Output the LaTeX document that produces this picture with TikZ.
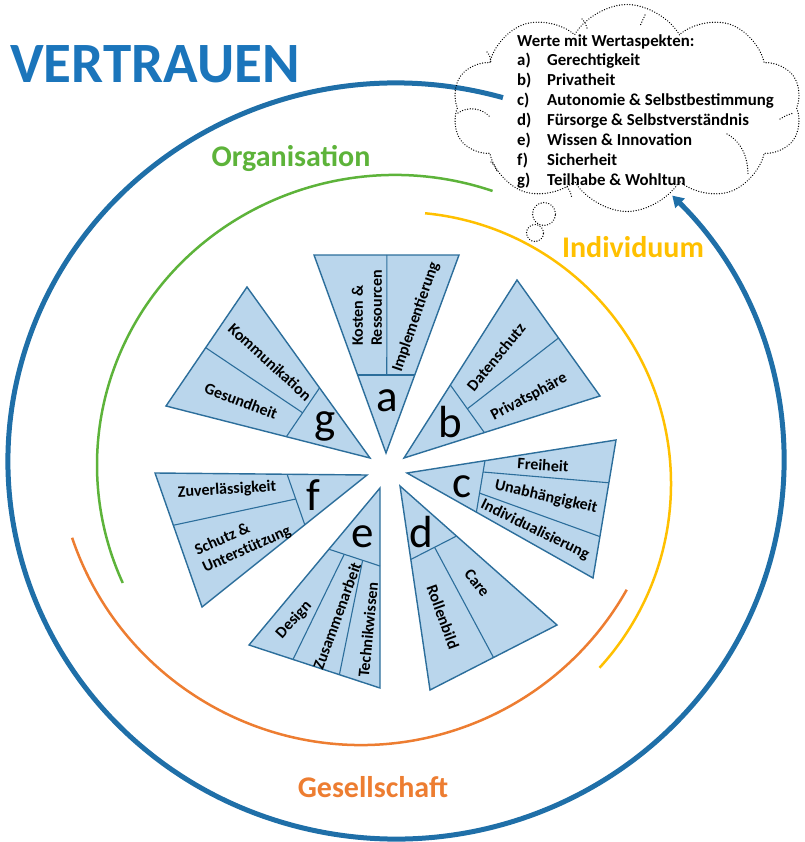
\documentclass[tikz,border=0pt]{standalone}
\usepackage{fontspec}
\setmainfont{Carlito}
\usetikzlibrary{calc,shapes.symbols,arrows.meta}
\definecolor{ringblue}{HTML}{1F6FA8}
\definecolor{titleblue}{HTML}{1B75BB}
\definecolor{orggreen}{HTML}{5DB33A}
\definecolor{indyellow}{HTML}{FFC000}
\definecolor{gesorange}{HTML}{ED7D31}
\definecolor{trifill}{HTML}{BAD6EC}
\definecolor{triline}{HTML}{2C6E9B}
\newcommand\wedgeshape[5]{%
  \coordinate (#1A) at #2; \coordinate (#1P) at #3; \coordinate (#1Q) at #4;
  \draw[tri] (#1A) -- (#1P) -- (#1Q) -- cycle;
  \coordinate (#1C1) at ($(#1A)!#5!(#1P)$);
  \coordinate (#1C2) at ($(#1A)!#5!(#1Q)$);
  \draw[divline] (#1C1) -- (#1C2);}
\newcommand\subdiv[3]{%
  \draw[divline] ($(#1C1)!#2!(#1C2)$) -- ($(#1P)!#3!(#1Q)$);}
\begin{document}
\begin{tikzpicture}[x=1pt,y=-1pt,
  tri/.style={fill=trifill,draw=triline,line width=1.4pt,line join=miter},
  divline/.style={draw=triline,line width=1.1pt},
  lbl/.style={font=\fontsize{16}{19}\selectfont\bfseries,inner sep=0,align=left},
  letter/.style={font=\fontsize{45}{45}\selectfont,inner sep=0},
  cloudtxt/.style={font=\fontsize{16.8}{20}\selectfont\bfseries,inner sep=0,anchor=base west},
  dotline/.style={draw=black,line width=1.4pt,line cap=round,dash pattern=on 0.01pt off 2.6pt},
  bigtitle/.style={font=\fontsize{30}{32}\selectfont\bfseries,inner sep=0,anchor=base}]
\useasboundingbox (0,0) rectangle (804,842);

% rings
\draw[ringblue,line width=5pt,-{Triangle[length=11pt,width=13pt]}]
  (396,461) ++(-74:388 and 378) arc[start angle=-74,end angle=-404.6,x radius=388,y radius=378];
\draw[orggreen,line width=2.5pt]
  (395,465) ++(-70.9:298 and 290) arc[start angle=-70.9,end angle=-204,x radius=298,y radius=290];
\draw[indyellow,line width=2.5pt]
  (399,484) ++(-84.5:272) arc[start angle=-84.5,end angle=42.5,radius=272];
\draw[gesorange,line width=2.5pt]
  (361,440) ++(-198.7:305) arc[start angle=-198.7,end angle=-330.6,radius=305];

% wedges
\wedgeshape{a}{(386,453)}{(314,255)}{(459,255)}{0.394}
\subdiv{a}{0.51}{0.503}
\wedgeshape{b}{(404,458)}{(517,280)}{(600,396)}{0.41}
\subdiv{b}{0.5}{0.5}
\wedgeshape{c}{(407,473)}{(616,440)}{(593,578)}{0.373}
\subdiv{c}{0.22}{0.31}
\subdiv{c}{0.63}{0.70}
\wedgeshape{d}{(400,486)}{(430,690)}{(557,625)}{0.36}
\subdiv{d}{0.52}{0.5}
\wedgeshape{e}{(380,488)}{(249,645)}{(380,688)}{0.39}
\subdiv{e}{0.3}{0.336}
\subdiv{e}{0.66}{0.69}
\wedgeshape{f}{(367,475)}{(155,473)}{(202,607)}{0.377}
\subdiv{f}{0.49}{0.39}
\wedgeshape{g}{(370,458)}{(247,287)}{(166,406)}{0.41}
\subdiv{g}{0.51}{0.51}

% letters
\node[letter] (la) at (387,401) {a};
\node[letter] (lb) at (450,422) {b};
\node[letter] (lc) at (462,487) {c};
\node[letter] (ld) at (421,532) {d};
\node[letter] (le) at (363,537) {e};
\node[letter] (lf) at (313,495) {f};
\node[letter] (lg) at (325,426) {g};

% wedge labels
\node[lbl,rotate=90] (ta1) at (367,308) {Kosten \&\\Ressourcen};
\node[lbl,rotate=71] (ta2) at (416,317) {Implementierung};
\node[lbl,rotate=50.5] (tb1) at (496,357) {Datenschutz};
\node[lbl,rotate=28] (tb2) at (529,397) {Privatsphäre};
\node[lbl,rotate=-4] (tc1) at (543,465) {Freiheit};
\node[lbl,rotate=-13] (tc2) at (546,497) {Unabhängigkeit};
\node[lbl,rotate=-26] (tc3) at (535,530) {Individualisierung};
\node[lbl,rotate=-51] (td1) at (477,583) {Care};
\node[lbl,rotate=-70] (td2) at (443,617) {Rollenbild};
\node[lbl,rotate=48] (te1) at (294,620) {Design};
\node[lbl,rotate=70] (te2) at (337,616) {Zusammenarbeit};
\node[lbl,rotate=84.5] (te3) at (368,630) {Technikwissen};
\node[lbl,rotate=3.4] (tf1) at (227,490) {Zuverlässigkeit};
\node[lbl,rotate=24] (tf2) at (243,541) {Schutz \&\\Unterstützung};
\node[lbl,rotate=-42.4] (tg1) at (270,362) {Kommunikation};
\node[lbl,rotate=-21] (tg2) at (241,401) {Gesundheit};

% titles
\node[font=\fontsize{57}{57}\selectfont\bfseries,text=titleblue,inner sep=0,anchor=base west] (title) at (10,83) {VERTRAUEN};
\node[bigtitle,text=orggreen] (org) at (291,167) {Organisation};
\node[bigtitle,text=indyellow] (ind) at (633,257) {Individuum};
\node[bigtitle,text=gesorange] (ges) at (373,797) {Gesellschaft};

% cloud
\node[cloud,dotline,cloud puffs=10,cloud puff arc=120,aspect=1.7,
  minimum width=350pt,minimum height=207pt,inner sep=0] (cloud) at (627,108) {};
\node[circle,dotline,minimum size=23pt,inner sep=0] (bub1) at (544,214) {};
\node[circle,dotline,minimum size=17pt,inner sep=0] (bub2) at (535,233) {};
% inner creases of the cloud
\draw[dotline] (727,134) .. controls (742,142) and (748,158) .. (748,175);
\draw[dotline] (458,113) .. controls (468,106) and (482,108) .. (490,117);
\draw[dotline] (487,52) .. controls (490,56) .. (491,64);
\draw[dotline] (582,19) .. controls (585,22) .. (587,28);
\draw[dotline] (645,15) .. controls (643,20) .. (640,26);
\draw[dotline] (780,119) .. controls (787,115) .. (794,113);
\draw[dotline] (491,162) .. controls (494,165) .. (497,171);
\draw[dotline] (567,187) .. controls (570,191) .. (572,198);

\node[cloudtxt] (h0) at (517,47) {Werte mit Wertaspekten:};
\foreach \y/\l/\t [count=\i] in {66/a)/Gerechtigkeit,86/b)/Privatheit,106/c)/Autonomie \& Selbstbestimmung,126/d)/Fürsorge \& Selbstverständnis,146/e)/Wissen \& Innovation,166/f)/Sicherheit,186/g)/Teilhabe \& Wohltun}{
  \node[cloudtxt] (k\i) at (517,\y) {\l};
  \node[cloudtxt] (v\i) at (547,\y) {\t};
}
\end{tikzpicture}
\end{document}
